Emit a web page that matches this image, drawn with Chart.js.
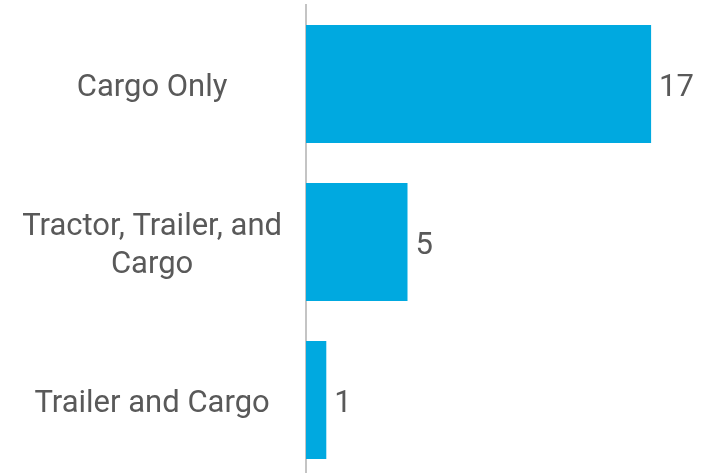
<!DOCTYPE html>
<html>
<head>
<meta charset="utf-8">
<script src="https://cdn.jsdelivr.net/npm/chart.js@4/dist/chart.umd.min.js"></script>
<style>
  html, body { margin: 0; padding: 0; background: #fff; overflow: hidden; }
  #wrap { width: 718px; height: 480px; position: relative; }
</style>
</head>
<body>
<div id="wrap"><canvas id="chart"></canvas></div>
<script>
const categories = ['Cargo Only', ['Tractor, Trailer, and', 'Cargo'], 'Trailer and Cargo'];
const counts = [17, 5, 1];
const xMax = 20;

const barColor = '#00a9e0';
const textColor = '#595959';
const fontSize = 31;
const textShift = 4; // nudge text down so caps sit centred on the bars

// value labels at the end of each bar
const valueLabels = {
  id: 'valueLabels',
  beforeDraw(chart) {
    const s = chart.scales.y;
    if (!s._shifted) {
      const orig = s.drawLabels;
      s.drawLabels = function (area) {
        const c = this.ctx;
        c.save();
        c.translate(0, textShift);
        orig.call(this, area);
        c.restore();
      };
      s._shifted = true;
    }
  },
  afterDatasetsDraw(chart) {
    const { ctx } = chart;
    const meta = chart.getDatasetMeta(0);
    ctx.save();
    ctx.font = fontSize + 'px Roboto';
    ctx.fillStyle = textColor;
    ctx.textAlign = 'left';
    ctx.textBaseline = 'middle';
    meta.data.forEach((bar, i) => {
      ctx.fillText(String(counts[i]), bar.x + 8, bar.y + textShift);
    });
    ctx.restore();
  }
};

new Chart(document.getElementById('chart').getContext('2d'), {
  type: 'bar',
  data: {
    labels: categories,
    datasets: [{
      data: counts,
      backgroundColor: barColor,
      borderWidth: 0,
      barPercentage: 0.747,
      categoryPercentage: 1
    }]
  },
  options: {
    indexAxis: 'y',
    responsive: true,
    maintainAspectRatio: false,
    animation: false,
    layout: { padding: { top: 5, bottom: 1, right: 6, left: 0 } },
    plugins: { legend: { display: false }, tooltip: { enabled: false } },
    scales: {
      x: { display: false, min: 0, max: xMax },
      y: {
        afterFit(scale) {
          scale.width = 306;
          scale.paddingTop = 0;
          scale.paddingBottom = 0;
        },
        grid: { display: false },
        border: { display: true, color: '#c4c4c4', width: 2 },
        ticks: {
          crossAlign: 'center',
          padding: 16,
          color: textColor,
          font: { family: 'Roboto', size: fontSize, lineHeight: 1.23 }
        }
      }
    }
  },
  plugins: [valueLabels]
});
</script>
</body>
</html>
